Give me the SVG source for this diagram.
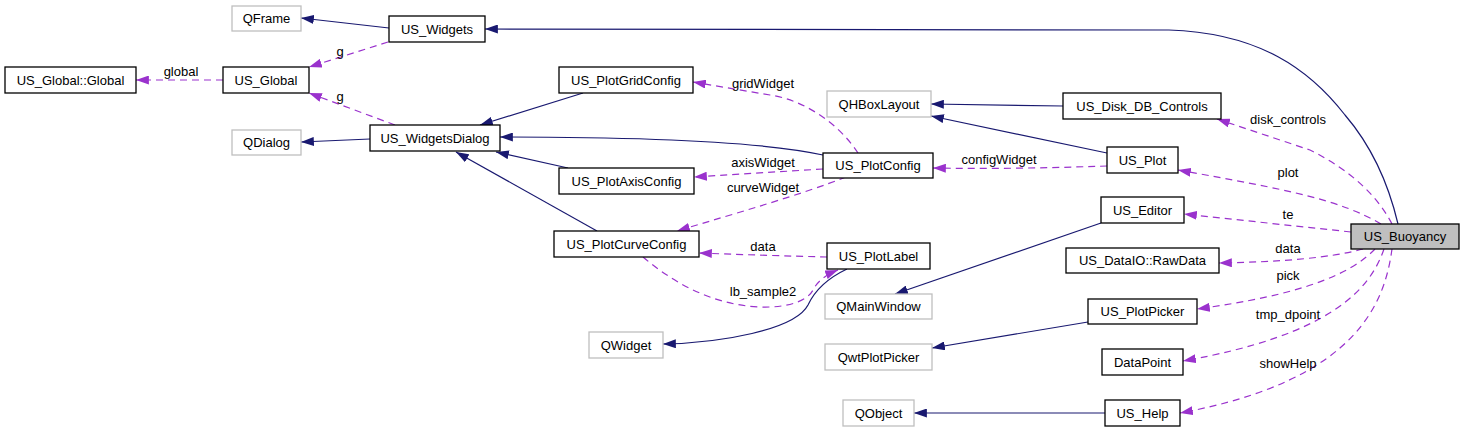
<svg xmlns="http://www.w3.org/2000/svg" width="1464" height="432" viewBox="0 0 1464 432">
<style>
.n rect{fill:#fff;stroke:#000;stroke-width:1.3}
.g rect{fill:#fff;stroke:#bfbfbf;stroke-width:1.3}
.hl rect{fill:#bfbfbf;stroke:#000;stroke-width:1.3}
text{font-family:"Liberation Sans",Arial,sans-serif;font-size:13px;fill:#000}
.n text,.g text,.hl text{text-anchor:middle}
.lbl{text-anchor:middle}
.inh{fill:none;stroke:#191970;stroke-width:1.2;marker-end:url(#ai)}
.use{fill:none;stroke:#9a32cd;stroke-width:1.2;stroke-dasharray:7,5;marker-end:url(#au)}
</style>
<defs>
<marker id="ai" viewBox="0 0 10 7" refX="10" refY="3.5" markerWidth="13" markerHeight="9" markerUnits="userSpaceOnUse" orient="auto"><path d="M0,0 L10,3.5 L0,7 z" fill="#191970"/></marker>
<marker id="au" viewBox="0 0 10 7" refX="10" refY="3.5" markerWidth="13" markerHeight="9" markerUnits="userSpaceOnUse" orient="auto"><path d="M0,0 L10,3.5 L0,7 z" fill="#9a32cd"/></marker>
</defs>
<rect width="1464" height="432" fill="#fff"/>
<g id="connectors">
<path class="inh" d="M389,28 L301,18"/>
<path class="inh" d="M1398,224 C1390,190 1375,150 1345,115 C1310,70 1260,33 1169,30 L485,29"/>
<path class="inh" d="M370,139 L301,142"/>
<path class="inh" d="M583,93 L480,125"/>
<path class="inh" d="M823,155 C760,141 620,137 500,137"/>
<path class="inh" d="M568,168 L496,152"/>
<path class="inh" d="M597,231 L456,152"/>
<path class="inh" d="M1063,106 L931,104"/>
<path class="inh" d="M1107,153 L931,116"/>
<path class="inh" d="M1101,223 L895,294"/>
<path class="inh" d="M847,269 C828,278 815,290 808,305 C795,330 720,343 663,344"/>
<path class="inh" d="M1088,322 L932,348"/>
<path class="inh" d="M1105,413 L914,413"/>
<path class="use" d="M388,42 L309,67"/>
<path class="use" d="M223,80 L136,80"/>
<path class="use" d="M395,125 L309,93"/>
<path class="use" d="M858,153 C840,125 805,100 770,95 L693,82"/>
<path class="use" d="M823,169 L694,177"/>
<path class="use" d="M846,177 C800,195 740,212 677,231"/>
<path class="use" d="M1107,166 C1050,168 990,169 933,168"/>
<path class="use" d="M827,257 C790,256 750,255 699,253"/>
<path class="use" d="M643,257 C670,280 710,305 760,307 C790,308 808,300 813,290 C818,280 828,274 838,270"/>
<path class="use" d="M1392,224 C1377,195 1350,170 1310,150 L1217,119"/>
<path class="use" d="M1381,224 C1340,200 1290,190 1178,170"/>
<path class="use" d="M1351,232 L1184,214"/>
<path class="use" d="M1363,249 C1330,258 1280,262 1219,263"/>
<path class="use" d="M1375,249 C1350,275 1300,295 1197,309"/>
<path class="use" d="M1384,249 C1370,290 1330,335 1183,361"/>
<path class="use" d="M1392,249 C1385,300 1360,380 1180,413"/>
<text class="lbl" x="340" y="56">g</text>
<text class="lbl" x="181" y="76">global</text>
<text class="lbl" x="340" y="101">g</text>
<text class="lbl" x="763" y="88">gridWidget</text>
<text class="lbl" x="763" y="167">axisWidget</text>
<text class="lbl" x="763" y="192">curveWidget</text>
<text class="lbl" x="999" y="164">configWidget</text>
<text class="lbl" x="763" y="251">data</text>
<text class="lbl" x="763" y="296">lb_sample2</text>
<text class="lbl" x="1288" y="124">disk_controls</text>
<text class="lbl" x="1288" y="177">plot</text>
<text class="lbl" x="1288" y="219">te</text>
<text class="lbl" x="1288" y="253">data</text>
<text class="lbl" x="1288" y="280">pick</text>
<text class="lbl" x="1288" y="319">tmp_dpoint</text>
<text class="lbl" x="1288" y="368">showHelp</text>
</g>
<g id="QFrame" class="g"><rect x="232" y="6" width="69" height="25"/><text x="266.5" y="23">QFrame</text></g>
<g id="US_Widgets" class="n"><rect x="389" y="16" width="96" height="26"/><text x="437" y="33.5">US_Widgets</text></g>
<g id="US_Global_Global" class="n"><rect x="5" y="67" width="131" height="26"/><text x="70.5" y="84.5">US_Global::Global</text></g>
<g id="US_Global" class="n"><rect x="223" y="67" width="86" height="26"/><text x="266" y="84.5">US_Global</text></g>
<g id="QDialog" class="g"><rect x="232" y="130" width="69" height="25"/><text x="266.5" y="147">QDialog</text></g>
<g id="US_WidgetsDialog" class="n"><rect x="370" y="125" width="130" height="26"/><text x="435" y="142.5">US_WidgetsDialog</text></g>
<g id="US_PlotGridConfig" class="n"><rect x="559" y="67" width="134" height="26"/><text x="626" y="84.5">US_PlotGridConfig</text></g>
<g id="QHBoxLayout" class="g"><rect x="827" y="91" width="104" height="26"/><text x="879" y="108.5">QHBoxLayout</text></g>
<g id="US_PlotConfig" class="n"><rect x="823" y="153" width="110" height="25"/><text x="878" y="170">US_PlotConfig</text></g>
<g id="US_PlotAxisConfig" class="n"><rect x="559" y="168" width="135" height="26"/><text x="626.5" y="185.5">US_PlotAxisConfig</text></g>
<g id="US_PlotCurveConfig" class="n"><rect x="554" y="231" width="145" height="26"/><text x="626.5" y="248.5">US_PlotCurveConfig</text></g>
<g id="US_PlotLabel" class="n"><rect x="827" y="243" width="103" height="26"/><text x="878.5" y="260.5">US_PlotLabel</text></g>
<g id="QMainWindow" class="g"><rect x="825" y="294" width="107" height="25"/><text x="878.5" y="311">QMainWindow</text></g>
<g id="QWidget" class="g"><rect x="589" y="332" width="74" height="26"/><text x="626" y="349.5">QWidget</text></g>
<g id="QwtPlotPicker" class="g"><rect x="825" y="344" width="107" height="26"/><text x="878.5" y="361.5">QwtPlotPicker</text></g>
<g id="QObject" class="g"><rect x="843" y="400" width="71" height="26"/><text x="878.5" y="417.5">QObject</text></g>
<g id="US_Disk_DB_Controls" class="n"><rect x="1063" y="93" width="158" height="26"/><text x="1142" y="110.5">US_Disk_DB_Controls</text></g>
<g id="US_Plot" class="n"><rect x="1107" y="147" width="71" height="26"/><text x="1142.5" y="164.5">US_Plot</text></g>
<g id="US_Editor" class="n"><rect x="1101" y="197" width="83" height="26"/><text x="1142.5" y="214.5">US_Editor</text></g>
<g id="US_Buoyancy" class="hl"><rect x="1351" y="224" width="108" height="25"/><text x="1405" y="241">US_Buoyancy</text></g>
<g id="US_DataIO_RawData" class="n"><rect x="1066" y="248" width="153" height="25"/><text x="1142.5" y="265">US_DataIO::RawData</text></g>
<g id="US_PlotPicker" class="n"><rect x="1088" y="299" width="109" height="25"/><text x="1142.5" y="316">US_PlotPicker</text></g>
<g id="DataPoint" class="n"><rect x="1102" y="349" width="81" height="26"/><text x="1142.5" y="366.5">DataPoint</text></g>
<g id="US_Help" class="n"><rect x="1105" y="400" width="75" height="26"/><text x="1142.5" y="417.5">US_Help</text></g>
</svg>
